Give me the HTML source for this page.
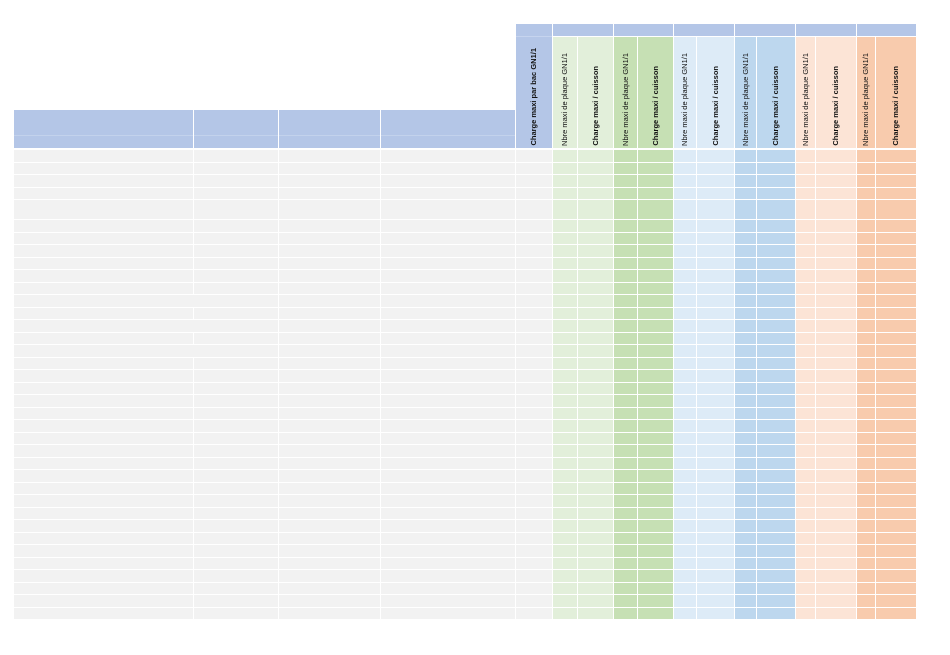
<!DOCTYPE html>
<html><head><meta charset="utf-8">
<style>
body{margin:0;background:#fff;width:950px;height:655px;position:relative;overflow:hidden;font-family:"Liberation Sans",sans-serif}
.c{position:absolute;box-sizing:border-box}
.t{position:absolute;writing-mode:vertical-rl;transform:rotate(180deg);font-size:7.5px;color:#111;white-space:nowrap;text-align:left}
</style></head><body>
<div id="root"></div>
<script>
const root=document.getElementById('root');
const cols=[14,193,278,380,515,552,577,613,637,673,696,734,756,795,815,856,875,916];
const colColors=['#f2f2f2','#f2f2f2','#f2f2f2','#f2f2f2','#f2f2f2','#e2efda','#e2efda','#c6e0b4','#c6e0b4','#ddebf7','#ddebf7','#bdd7ee','#bdd7ee','#fce4d6','#fce4d6','#f8cbad','#f8cbad'];
const headerLabels=['Charge maxi par bac GN1/1','Nbre maxi de plaque GN1/1','Charge maxi / cuisson','Nbre maxi de plaque GN1/1','Charge maxi / cuisson','Nbre maxi de plaque GN1/1','Charge maxi / cuisson','Nbre maxi de plaque GN1/1','Charge maxi / cuisson','Nbre maxi de plaque GN1/1','Charge maxi / cuisson','Nbre maxi de plaque GN1/1','Charge maxi / cuisson'];
const bold=[1,0,1,0,1,0,1,0,1,0,1,0,1];
function box(x,y,w,h,bg,name){const d=document.createElement('div');d.className='c';


d.style.cssText+=`left:${x}px;top:${y}px;width:${w}px;height:${h}px;background:${bg}`;root.appendChild(d);return d;}
// left header
box(14,110,501,38,'#b4c6e7','left-header');
box(14,135,501,1,'#c3d2ec','header-divider');
[193,278,380].forEach(x=>box(x,110,1,38,'#ffffff','header-col-line'));
// first numeric column header
box(516,24,36,124,'#b4c6e7','charge-bac-header');
box(516,36,36,1,'#c6d4ee','header-band-line');
// group bands
const groups=[[553,613],[614,673],[674,734],[735,795],[796,856],[857,916]];
groups.forEach(g=>box(g[0],24,g[1]-g[0],12,'#b4c6e7','group-band'));
// rotated header cells
for(let i=4;i<17;i++){
 const x=cols[i]+1,w=cols[i+1]-cols[i]-1;
 const d=box(x,37,w,111,i==4?'#b4c6e7':colColors[i],'column-header');
 const t=document.createElement('div');t.className='t';
 
 
 t.textContent=headerLabels[i-4];
 t.style.fontWeight=bold[i-4]?'bold':'normal';
 t.style.left=(w/2-5)+'px';t.style.bottom='2px';
 d.appendChild(t);
}
// rows
const rowTops=[149,162,174,187,199];
for(let y=219;y<619;y+=12.5)rowTops.push(y);
rowTops.push(619);
const merged=[294.5,319.5,344.5];
for(let r=0;r<rowTops.length-1;r++){
 const y=rowTops[r]+1,h=rowTops[r+1]-rowTops[r]-1;
 for(let i=0;i<17;i++){
  let x=cols[i]+(i==0?0:1),w=cols[i+1]-x;
  if(i==0&&merged.some(m=>Math.abs(m-rowTops[r])<1)){w=cols[2]-x;box(x,y,w,h,colColors[i],'table-cell');i++;continue;}
  box(x,y,w,h,colColors[i],'table-cell');
 }
}
</script>
</body></html>
